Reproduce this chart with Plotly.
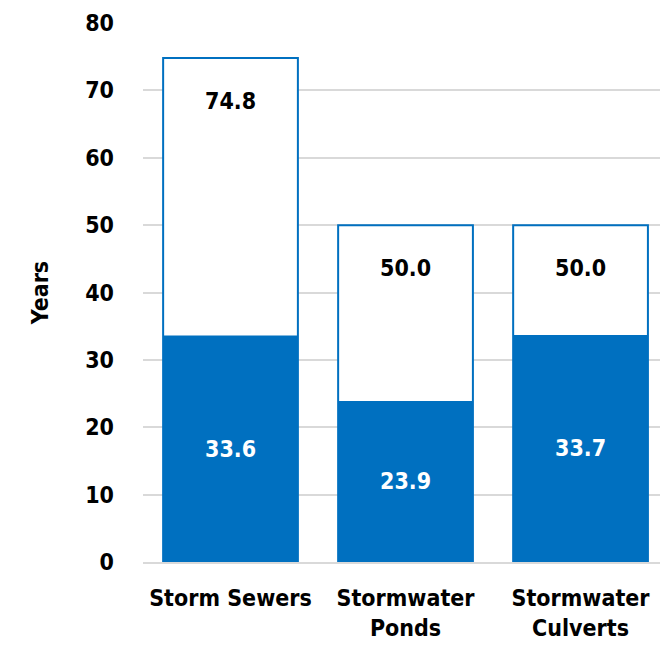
import plotly.graph_objects as go

categories = ["Storm Sewers", "Stormwater<br>Ponds", "Stormwater<br>Culverts"]
expected_life = [74.8, 50.0, 50.0]
average_age = [33.6, 23.9, 33.7]
y_ticks = [0, 10, 20, 30, 40, 50, 60, 70, 80]

BLUE = "#0070C0"
FONT = "DejaVu Sans Condensed"
FS = 23

def bold(size, color="black"):
    return dict(family=FONT, size=size, color=color, weight="bold")

fig = go.Figure()

# Outline bars: expected useful life
fig.add_trace(go.Bar(
    x=categories, y=expected_life,
    marker=dict(color="white", line=dict(color=BLUE, width=2)),
    width=0.77, hoverinfo="skip", showlegend=False,
))

# Solid bars: average age, labelled in the middle
fig.add_trace(go.Bar(
    x=categories, y=average_age,
    marker=dict(color=BLUE, line=dict(width=0)),
    width=0.77,
    text=[f"{v:.1f}" for v in average_age],
    textposition="inside", insidetextanchor="middle",
    textfont=bold(FS, "white"),
    showlegend=False,
))

# Expected-life labels near the top of the outline bars
for c, v in zip(categories, expected_life):
    fig.add_annotation(
        x=c, y=v, text=f"{v:.1f}", showarrow=False,
        yanchor="middle", yshift=-43,
        font=bold(FS),
    )

fig.update_layout(
    width=660, height=650,
    barmode="overlay",
    plot_bgcolor="white", paper_bgcolor="white",
    margin=dict(l=143, r=0, t=23, b=88),
    font=bold(FS),
    uniformtext=dict(minsize=10, mode="show"),
)
fig.update_xaxes(
    range=[-0.5, 2.454],
    showline=True, linecolor="#d9d9d9", linewidth=2,
    tickfont=bold(FS),
    ticks="", ticklen=0, ticklabelstandoff=14,
)
fig.update_yaxes(
    range=[0, 80], tickvals=y_ticks,
    showgrid=True, gridcolor="#d9d9d9", gridwidth=2,
    zeroline=False,
    tickfont=bold(FS),
    ticklabelstandoff=28,
    title=dict(text="Years", font=bold(FS), standoff=30),
)

fig.write_html("out.html")
